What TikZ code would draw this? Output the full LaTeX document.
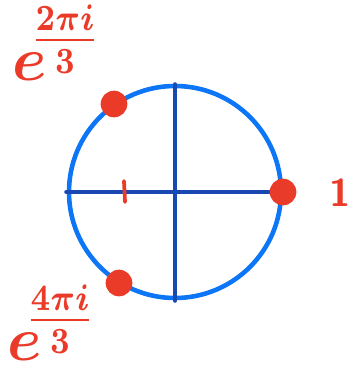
\documentclass[tikz,border=0pt]{standalone}
\usepackage{amsmath}
\usepackage{amsfonts, amssymb}
\usepackage{graphicx}
\usepackage{tikz}
\usetikzlibrary{positioning, calc}
\definecolor{ringblue}{RGB}{12,118,246}
\definecolor{axisblue}{RGB}{26,72,178}
\definecolor{rootred}{RGB}{234,58,40}

\begin{document}
\begin{tikzpicture}[x=0.03cm, y=-0.03cm]
  % --- STYLE DEFINITIONS ---
  \tikzstyle{ring}=[draw=ringblue, line width=3.9pt]
  \tikzstyle{axis}=[draw=axisblue, line width=3pt, line cap=round]
  \tikzstyle{root}=[circle, fill=rootred, minimum size=0.8cm, inner sep=0pt]
  \tikzstyle{tick}=[draw=rootred, line width=3.2pt, line cap=round]
  \tikzstyle{rootlabel}=[text=rootred, inner sep=0pt, font=\boldmath, anchor=base west, scale=5.3]

  \useasboundingbox (0,0) rectangle (354,365);

  % =================================================================
  % UNIT CIRCLE AND AXES
  % =================================================================
  \coordinate (O) at (175,192);
  \coordinate (W) at (66,192);
  \coordinate (E) at (283,192);
  \coordinate (N) at (175,84);
  \coordinate (S) at (175,301);
  \draw[ring] (O) circle[radius=3.18cm];
  \draw[axis] (W) -- (E);
  \draw[axis] (N) -- (S);

  % tick on the real axis
  \coordinate (T1) at (124,181);
  \coordinate (T2) at (125,202);
  \draw[tick] (T1) -- (T2);

  % =================================================================
  % CUBE ROOTS OF UNITY
  % =================================================================
  \node[root] (one) at (E) {};
  \node[root] (omega) at (114,104) {};
  \node[root] (omegasq) at (119,283) {};

  % labels
  \node[text=rootred, scale=3.3, font=\sffamily\bfseries] (lone) at (340,193) {1};
  \node[rootlabel] (lomega) at (11,80) {$e^{\hspace{-2.6pt}\scalebox{0.7}[0.85]{$\frac{2\pi i}{3}$}}$};
  \node[rootlabel] (lomegasq) at (6,360) {$e^{\hspace{-2.6pt}\scalebox{0.7}[0.85]{$\frac{4\pi i}{3}$}}$};
\end{tikzpicture}
\end{document}
